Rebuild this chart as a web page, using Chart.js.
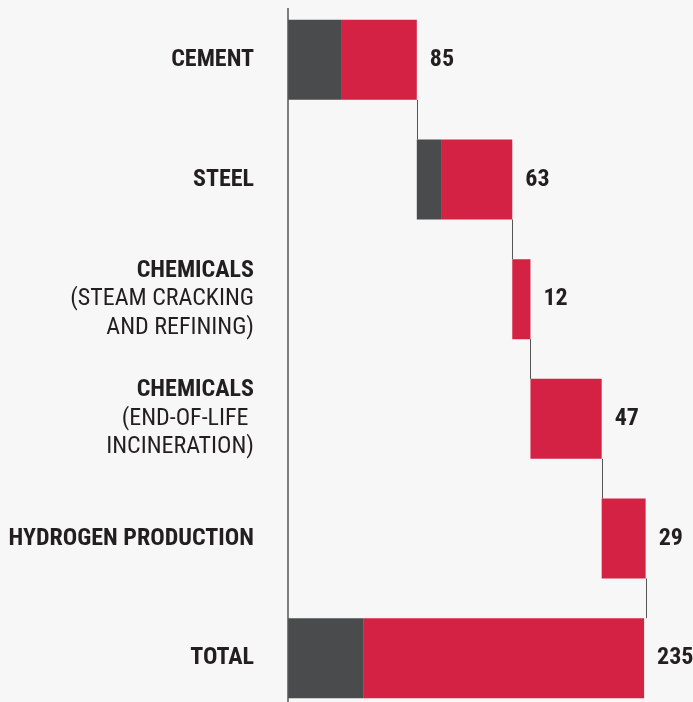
<!DOCTYPE html>
<html>
<head>
<meta charset="utf-8">
<script src="https://cdn.jsdelivr.net/npm/chart.js@4"></script>
<style>
  html, body { margin: 0; padding: 0; background: #f7f7f7; overflow: hidden; }
  #wrap { position: relative; width: 693px; height: 718px; }
</style>
</head>
<body>
<div id="wrap"><canvas id="chart" width="693" height="718"></canvas></div>
<script>
// categories (bold first line) and the regular sub lines under some of them
const categories = ['CEMENT', 'STEEL', 'CHEMICALS', 'CHEMICALS', 'HYDROGEN PRODUCTION', 'TOTAL'];
const subLines = [[], [], ['(STEAM CRACKING', 'AND REFINING)'], ['(END-OF-LIFE ', 'INCINERATION)'], [], []];

// values per bar: dark part, red part, printed total
const greyPart = [35, 16, 0, 0, 0, 50];
const redPart = [50, 47, 12, 47, 29, 185];
const valueLabels = [85, 63, 12, 47, 29, 235];
const isTotal = [false, false, false, false, false, true];

const GREY = '#4a4b4d';
const RED = '#d42244';
const TEXT = '#231f20';
const FONT = '"Liberation Sans Narrow", "Roboto Condensed", "DejaVu Sans Condensed", sans-serif';

// build floating bars for the waterfall
const greyBars = [];
const redBars = [];
const barEnds = [];
let running = 0;
for (let i = 0; i < categories.length; i++) {
    const start = isTotal[i] ? 0 : running;
    const g = greyPart[i];
    const r = redPart[i];
    greyBars.push(g > 0 ? [start, start + g] : null);
    redBars.push(r > 0 ? [start + g, start + g + r] : null);
    barEnds.push(start + g + r);
    if (!isTotal[i]) running = start + g + r;
}

// draws the category labels, value labels, axis line and connectors
const decorations = {
    id: 'decorations',
    afterDatasetsDraw(chart) {
        const c = chart.ctx;
        const x = chart.scales.x;
        const y = chart.scales.y;
        const left = chart.chartArea.left;
        const meta = chart.getDatasetMeta(1);

        c.save();
        // axis line
        c.strokeStyle = '#555';
        c.lineWidth = 1.5;
        c.beginPath();
        c.moveTo(left, 8);
        c.lineTo(left, chart.height);
        c.stroke();

        // connectors between bars
        c.lineWidth = 1;
        for (let i = 0; i < categories.length - 1; i++) {
            const bar = meta.data[i];
            const next = meta.data[i + 1];
            const px = Math.round(x.getPixelForValue(barEnds[i])) + 0.5;
            c.beginPath();
            c.moveTo(px, bar.y + bar.height / 2);
            c.lineTo(px, next.y - next.height / 2);
            c.stroke();
        }

        // category labels
        c.fillStyle = TEXT;
        c.textAlign = 'right';
        c.textBaseline = 'middle';
        const lineH = 28.5;
        for (let i = 0; i < categories.length; i++) {
            const cy = y.getPixelForValue(i);
            const lines = [categories[i]].concat(subLines[i]);
            const top = cy - (lines.length - 1) * lineH / 2;
            lines.forEach((t, k) => {
                c.font = (k === 0 ? 'bold ' : '') + '24px ' + FONT;
                c.fillText(t, 254, top + k * lineH);
            });
        }

        // value labels
        c.textAlign = 'left';
        c.font = 'bold 24px ' + FONT;
        for (let i = 0; i < categories.length; i++) {
            const cy = y.getPixelForValue(i);
            c.fillText(String(valueLabels[i]), x.getPixelForValue(barEnds[i]) + 13, cy);
        }
        c.restore();
    }
};

const ctx = document.getElementById('chart').getContext('2d');
const chart = new Chart(ctx, {
    type: 'bar',
    data: {
        labels: categories,
        datasets: [
            { data: greyBars, backgroundColor: GREY, borderWidth: 0 },
            { data: redBars, backgroundColor: RED, borderWidth: 0 }
        ]
    },
    options: {
        indexAxis: 'y',
        responsive: false,
        animation: false,
        grouped: false,
        categoryPercentage: 1,
        barPercentage: 0.668,
        layout: { padding: { left: 288, right: 11, top: 0, bottom: 0 } },
        plugins: { legend: { display: false }, tooltip: { enabled: false } },
        scales: {
            x: { display: false, min: 0, max: 260 },
            y: { display: false }
        }
    },
    plugins: [decorations]
});
</script>
</body>
</html>
